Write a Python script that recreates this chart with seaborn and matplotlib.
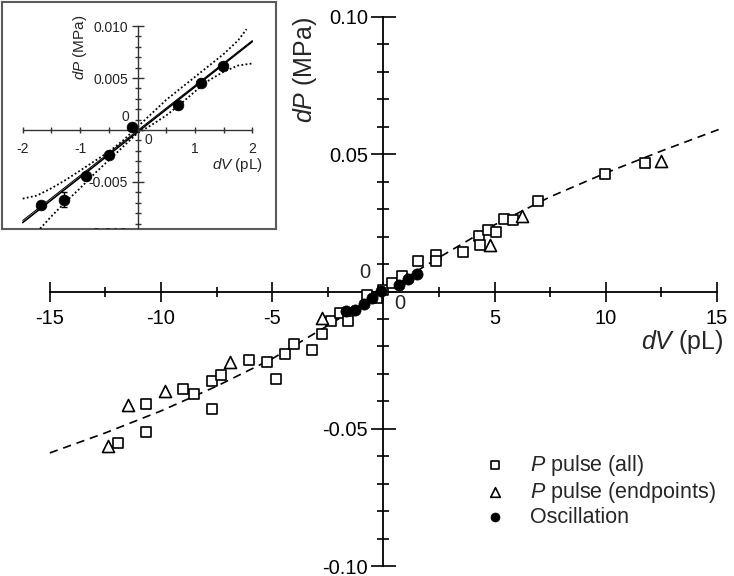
import matplotlib
matplotlib.use("Agg")
import matplotlib.pyplot as plt
import seaborn as sns

# 1. Data (dV in pL, dP in MPa)
pulse_dv = [-11.95, -10.67, -10.67, -8.99, -8.54, -7.71, -7.71, -7.29, -6.06, -5.22,
            -4.81, -4.44, -4.02, -3.19, -2.78, -2.36, -1.96, -1.59, -0.76, -0.31,
            0.0, 0.40, 0.82, 1.57, 2.36, 2.36, 3.57, 4.30, 4.35, 4.68,
            5.07, 5.44, 5.82, 6.97, 9.95, 11.78]
pulse_dp = [-0.0553, -0.0410, -0.0511, -0.0356, -0.0373, -0.0325, -0.0429, -0.0304, -0.0250, -0.0258,
            -0.0319, -0.0228, -0.0192, -0.0213, -0.0155, -0.0106, -0.0079, -0.0107, -0.0013, -0.0025,
            0.0005, 0.0030, 0.0056, 0.0111, 0.0133, 0.0111, 0.0143, 0.0203, 0.0169, 0.0224,
            0.0216, 0.0264, 0.0260, 0.0329, 0.0427, 0.0469]

end_dv = [-12.40, -11.50, -9.80, -6.88, -2.78, 4.80, 6.23, 12.50]
end_dp = [-0.0562, -0.0413, -0.0362, -0.0256, -0.0098, 0.0169, 0.0275, 0.0476]

osc_dv = [-1.68, -1.28, -0.89, -0.50, -0.09, 0.70, 1.10, 1.49]
osc_dp = [-0.0072, -0.0067, -0.0044, -0.0024, 0.0003, 0.0024, 0.0045, 0.0062]
osc_err = [0.0002, 0.0007, 0.0002, 0.0002, 0.0002, 0.0002, 0.0002, 0.0002]

# dashed fit curve (main panel)
fit_dv = [-15.0, -12.5, -10.0, -7.5, -5.0, -2.5, 0.0, 2.5, 5.0, 7.5, 10.0, 12.5, 15.1]
fit_dp = [-0.0588, -0.0515, -0.0435, -0.0345, -0.0245, -0.0124, 0.0,
          0.0124, 0.0243, 0.0345, 0.0432, 0.0512, 0.0591]

# inset: two fit lines and dotted confidence band
lin1_dv = [-2.0, 2.0]
lin1_dp = [-0.0089, 0.0085]
lin2_dv = [-2.0, 2.0]
lin2_dp = [-0.0087, 0.0086]
up_dv = [-2.0, -1.75, -1.5, -1.25, -1.0, -0.75, -0.5, -0.25, 0.0, 0.25, 0.5, 0.75, 1.0, 1.25, 1.5, 1.75, 1.9]
up_dp = [-0.0066, -0.0063, -0.0056, -0.0048, -0.0039, -0.0030, -0.0021, -0.0010, 0.0003,
         0.0016, 0.0029, 0.0040, 0.0051, 0.0062, 0.0073, 0.0086, 0.0097]
lo_dv = [-2.0, -1.75, -1.5, -1.25, -1.0, -0.75, -0.5, -0.25, 0.0, 0.25, 0.5, 0.75, 1.0, 1.25, 1.5, 1.75, 2.0]
lo_dp = [-0.0112, -0.0098, -0.0083, -0.0069, -0.0056, -0.0042, -0.0029, -0.0016, -0.0003,
         0.0005, 0.0014, 0.0025, 0.0037, 0.0048, 0.0056, 0.0062, 0.0064]

# tick labels
x_ticks = [-15, -10, -5, 0, 5, 10, 15]
x_labels = ["-15", "-10", "-5", "", "5", "10", "15"]
y_ticks = [-0.10, -0.05, 0.0, 0.05, 0.10]
y_labels = ["-0.10", "-0.05", "", "0.05", "0.10"]
ix_ticks = [-2, -1, 0, 1, 2]
ix_labels = ["-2", "-1", "", "1", "2"]
iy_ticks = [-0.005, 0.0, 0.005, 0.010]
iy_labels = ["-0.005", "", "0.005", "0.010"]

# 2. Style
sns.set_theme(style="white")
plt.rcParams['font.family'] = ['Liberation Sans', 'DejaVu Sans']
plt.rcParams['mathtext.fontset'] = 'custom'
plt.rcParams['mathtext.rm'] = 'Liberation Sans'
plt.rcParams['mathtext.it'] = 'Liberation Sans:italic'
plt.rcParams['axes.unicode_minus'] = False

W, H = 734, 576
fig = plt.figure(figsize=(W / 100, H / 100), dpi=100)


def box(x0, y0, x1, y1):
    return [x0 / W, 1 - y1 / H, (x1 - x0) / W, (y1 - y0) / H]


# 3. Main panel
ax = fig.add_axes(box(38.7, 11.5, 728.2, 571.5))
ax.set_xlim(-15.5, 15.5)
ax.set_ylim(-0.102, 0.102)

sns.lineplot(x=fit_dv, y=fit_dp, ax=ax, color="black", lw=1.2,
             linestyle=(0, (5, 3.5)), sort=False, zorder=2)
sns.scatterplot(x=pulse_dv, y=pulse_dp, ax=ax, marker="s", s=58, color="white",
                edgecolor="black", linewidth=1.2, label="$\\it{P}$ pulse (all)", zorder=3)
sns.scatterplot(x=end_dv, y=end_dp, ax=ax, marker="^", s=75, color="white",
                edgecolor="black", linewidth=1.2, label="$\\it{P}$ pulse (endpoints)", zorder=3)
sns.scatterplot(x=osc_dv, y=osc_dp, ax=ax, marker="o", s=65, color="black",
                edgecolor="black", linewidth=0.5, label="Oscillation", zorder=4)

for s in ["top", "right"]:
    ax.spines[s].set_visible(False)
ax.spines["left"].set_position(("data", 0))
ax.spines["bottom"].set_position(("data", 0))
ax.spines["left"].set_bounds(-0.10, 0.10)
ax.spines["bottom"].set_bounds(-15, 15)
for s in ["left", "bottom"]:
    ax.spines[s].set_color("black")
    ax.spines[s].set_linewidth(1.3)

ax.set_xticks(x_ticks, labels=x_labels)
ax.set_xticks([-12.5, -7.5, -2.5, 2.5, 7.5, 12.5], minor=True)
ax.set_yticks(y_ticks, labels=y_labels)
ax.set_yticks([-0.09, -0.08, -0.07, -0.06, -0.04, -0.03, -0.02, -0.01,
               0.01, 0.02, 0.03, 0.04, 0.06, 0.07, 0.08, 0.09], minor=True)
ax.tick_params(axis="x", which="both", bottom=True, color="black")
ax.tick_params(axis="y", which="both", left=True, color="black")
ax.tick_params(axis="x", which="major", direction="inout", length=15, width=1.2,
               pad=5, labelsize=14.5, labelcolor="black")
ax.tick_params(axis="x", which="minor", direction="inout", length=7.5, width=1.2)
ax.tick_params(axis="y", which="major", direction="inout", length=18, width=1.2,
               pad=2, labelsize=14.5, labelcolor="black")
ax.tick_params(axis="y", which="minor", direction="inout", length=8.5, width=1.2)
ax.set_xlabel("")
ax.set_ylabel("")

ax.text(0.74, -0.0043, "0", fontsize=14.5, ha="center", va="center")
ax.text(-0.83, 0.0068, "0", fontsize=14.5, ha="center", va="center")
ax.text(-3.53, 0.0807, "$\\it{dP}$ (MPa)", fontsize=18, rotation=90, ha="center", va="center")
ax.text(15.27, -0.0184, "$\\it{dV}$ (pL)", fontsize=18, ha="right", va="center")

ax.legend(loc="upper left", bbox_to_anchor=(484 / W, 1 - 452.7 / H),
          bbox_transform=fig.transFigure, frameon=False, fontsize=15.5,
          handlelength=1.0, handletextpad=1.14, labelspacing=0.1,
          borderpad=0, borderaxespad=0, markerscale=0.8)

# 4. Inset
frame = fig.add_axes(box(2, 2, 276, 229))
frame.set_xticks([])
frame.set_yticks([])
frame.set_facecolor("white")
for sp in frame.spines.values():
    sp.set_color("#5a5a5a")
    sp.set_linewidth(1.5)
frame.set_zorder(5)

ins = fig.add_axes(box(2, 2, 276, 229))
ins.set_zorder(6)
ins.patch.set_alpha(0)
ins.set_xlim(-2.361, 2.413)
ins.set_ylim(-0.00952, 0.01231)

sns.lineplot(x=up_dv, y=up_dp, ax=ins, color="black", lw=1.3, linestyle=(0, (1, 1.3)), sort=False)
sns.lineplot(x=lo_dv, y=lo_dp, ax=ins, color="black", lw=1.3, linestyle=(0, (1, 1.3)), sort=False)
sns.lineplot(x=lin1_dv, y=lin1_dp, ax=ins, color="black", lw=1.2, sort=False)
sns.lineplot(x=lin2_dv, y=lin2_dp, ax=ins, color="black", lw=0.7, sort=False)
ins.errorbar(osc_dv, osc_dp, yerr=osc_err, fmt="none", ecolor="black",
             elinewidth=1.0, capsize=2.5, capthick=1.0, zorder=3)
sns.scatterplot(x=osc_dv, y=osc_dp, ax=ins, marker="o", s=60, color="black",
                edgecolor="black", linewidth=0.5, zorder=4)

for s in ["top", "right"]:
    ins.spines[s].set_visible(False)
ins.spines["left"].set_position(("data", 0))
ins.spines["bottom"].set_position(("data", 0))
ins.spines["left"].set_bounds(-0.0094, 0.010)
ins.spines["bottom"].set_bounds(-2, 2)
for s in ["left", "bottom"]:
    ins.spines[s].set_color("#333333")
    ins.spines[s].set_linewidth(1.0)

ins.set_xticks(ix_ticks, labels=ix_labels)
ins.set_xticks([-1.5, -0.5, 0.5, 1.5], minor=True)
ins.set_yticks(iy_ticks, labels=iy_labels)
ins.set_yticks([-0.009, -0.008, -0.007, -0.006, -0.004, -0.003, -0.002, -0.001,
                0.001, 0.002, 0.003, 0.004, 0.006, 0.007, 0.008, 0.009], minor=True)
ins.tick_params(axis="x", which="both", bottom=True, color="#333333")
ins.tick_params(axis="y", which="both", left=True, color="#333333")
ins.tick_params(axis="x", which="both", direction="inout", length=5, width=1.0,
                pad=6, labelsize=10, labelcolor="#222222")
ins.tick_params(axis="y", which="major", direction="inout", length=8, width=1.0,
                pad=3, labelsize=10, labelcolor="#222222")
ins.tick_params(axis="y", which="minor", direction="inout", length=4, width=1.0)
ins.set_xlabel("")
ins.set_ylabel("")

ins.text(-0.218, 0.00125, "0", fontsize=10, ha="center", va="center")
ins.text(0.183, -0.00096, "0", fontsize=10, ha="center", va="center")
ins.text(-0.17, -0.0100, "-0.010", fontsize=10, ha="right", va="center", clip_on=True)
ins.text(-1.0, 0.0080, "$\\it{dP}$ (MPa)", fontsize=11, rotation=90, ha="center", va="center")
ins.text(2.19, -0.00337, "$\\it{dV}$ (pL)", fontsize=11, ha="right", va="center")

fig.savefig("out.png", dpi=100)
